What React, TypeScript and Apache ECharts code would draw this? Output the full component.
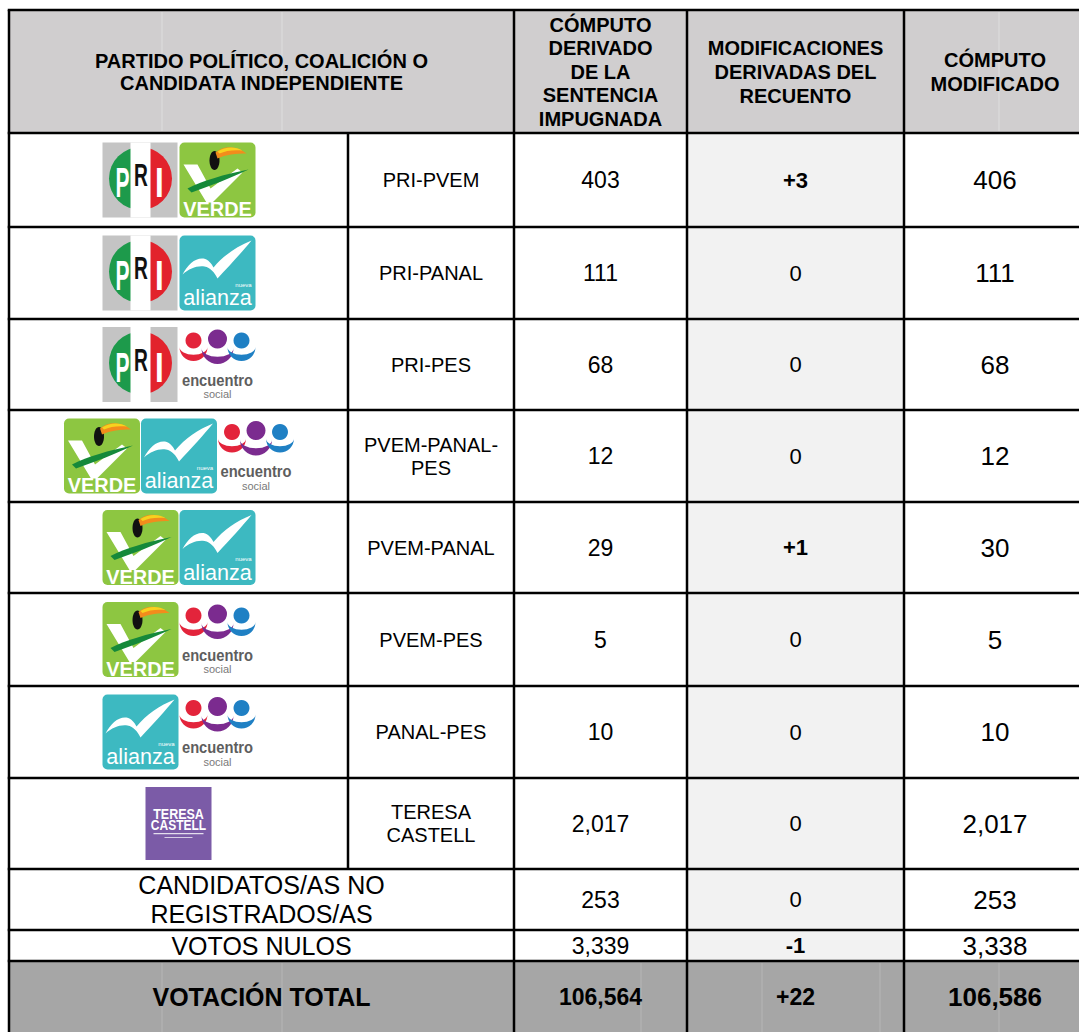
import React, { useEffect, useRef } from "react";
import * as echarts from "echarts";

// ---------------- data ----------------
const headers = [
  "PARTIDO POLÍTICO, COALICIÓN O\nCANDIDATA INDEPENDIENTE",
  "CÓMPUTO\nDERIVADO\nDE LA\nSENTENCIA\nIMPUGNADA",
  "MODIFICACIONES\nDERIVADAS DEL\nRECUENTO",
  "CÓMPUTO\nMODIFICADO",
];
const rowNames = [
  "PRI-PVEM",
  "PRI-PANAL",
  "PRI-PES",
  "PVEM-PANAL-\nPES",
  "PVEM-PANAL",
  "PVEM-PES",
  "PANAL-PES",
  "TERESA\nCASTELL",
  "CANDIDATOS/AS NO\nREGISTRADOS/AS",
  "VOTOS NULOS",
];
const rowLogos = [
  ["PRI", "PVEM"],
  ["PRI", "PANAL"],
  ["PRI", "PES"],
  ["PVEM", "PANAL", "PES"],
  ["PVEM", "PANAL"],
  ["PVEM", "PES"],
  ["PANAL", "PES"],
  ["TC"],
];
const computoSentencia = [403, 111, 68, 12, 29, 5, 10, 2017, 253, 3339];
const modificaciones = [3, 0, 0, 0, 1, 0, 0, 0, 0, -1];
const computoModificado = [406, 111, 68, 12, 30, 5, 10, 2017, 253, 3338];
const totalLabel = "VOTACIÓN TOTAL";
const totalSentencia = 106564;
const totalModificaciones = 22;
const totalModificado = 106586;

// ---------------- layout ----------------
const COLS = [9, 348, 514, 687, 904, 1086];
const ROWS = [10, 133, 227, 319, 410, 502, 593, 686, 778, 869, 930, 961, 1032];
const LOGO_CX = 178.5;
const FONT = "'Liberation Sans', Arial, Helvetica, sans-serif";

// ---------------- custom shapes ----------------
const SHAPES: Record<string, string> = {
  verdeV: "M4 22 L18 22 L31 46 L58 26 L63 30 L33 60 L27 60 Z",
  verdeSwoosh: "M8 46 C24 38 44 32 69 27 C52 35 32 43 12 50 Z",
  toucanBeak: "M36 10 C44 3 57 3 67 11 C57 11 46 12 38 16 Z",
  toucanBeakTop: "M38 9 C46 4 56 4 63 8 C55 7 46 8 40 11 Z",
  alianzaSwoosh:
    "M3 39 C8 29 16 22 24 23 C29 24 32 28 34 32 C44 20 57 11 72 5 C63 16 51 29 38 43 C35 37 31 32 25 31 C17 30 10 33 3 39 Z",
  crescent: "M-1 0 A1 1 0 0 0 1 0 A1 0.55 0 0 1 -1 0 Z",
};
Object.keys(SHAPES).forEach((k) => {
  echarts.graphic.registerShape(k, echarts.graphic.extendPath(SHAPES[k], {}));
});

function fmt(n: number) {
  return n.toLocaleString("en-US");
}
function fmtMod(n: number) {
  return n > 0 ? "+" + n : String(n);
}

type TxtOpts = { bold?: boolean; color?: string; lh?: number; sx?: number; sy?: number; family?: string };
function txt(x: number, y: number, text: string, size: number, o: TxtOpts = {}) {
  return {
    type: "text",
    x,
    y,
    scaleX: o.sx ?? 1,
    scaleY: o.sy ?? 1,
    silent: true,
    style: {
      text,
      fontSize: size,
      fontFamily: o.family || FONT,
      fontWeight: o.bold ? "bold" : "normal",
      fill: o.color || "#000000",
      textAlign: "center",
      textVerticalAlign: "middle",
      lineHeight: o.lh ?? Math.round(size * 1.15),
    },
  };
}

function priLogo() {
  return [
    { type: "rect", shape: { x: 0, y: 0, width: 75, height: 75 }, style: { fill: "#c4c4c4" } },
    {
      type: "sector",
      shape: { cx: 38, cy: 36, r: 31.5, r0: 0, startAngle: Math.PI / 2, endAngle: Math.PI * 1.5, clockwise: true },
      style: { fill: "#1d9a4b" },
    },
    {
      type: "sector",
      shape: { cx: 38, cy: 36, r: 31.5, r0: 0, startAngle: -Math.PI / 2, endAngle: Math.PI / 2, clockwise: true },
      style: { fill: "#e2222c" },
    },
    { type: "rect", shape: { x: 28, y: 0, width: 20, height: 75 }, style: { fill: "#ffffff" } },
    txt(20, 40, "P", 42, { bold: true, color: "#ffffff", sx: 0.5 }),
    txt(38.5, 33, "R", 32, { bold: true, color: "#111111", sx: 0.6 }),
    txt(57, 40, "I", 42, { bold: true, color: "#ffffff", sx: 0.75 }),
  ];
}

function verdeLogo() {
  return [
    { type: "rect", shape: { x: 0, y: 0, width: 76, height: 75, r: 5 }, style: { fill: "#8dc641" } },
    { type: "verdeV", style: { fill: "#ffffff" } },
    { type: "verdeSwoosh", style: { fill: "#15893a" } },
    { type: "ellipse", shape: { cx: 35, cy: 18, rx: 5, ry: 9.5 }, style: { fill: "#111111" } },
    { type: "toucanBeak", style: { fill: "#f28c1c" } },
    { type: "toucanBeakTop", style: { fill: "#f7d21e" } },
    txt(38, 66, "VERDE", 21, { bold: true, color: "#ffffff", sx: 0.95 }),
  ];
}

function panalLogo() {
  return [
    { type: "rect", shape: { x: 0, y: 0, width: 76, height: 75, r: 5 }, style: { fill: "#3db9c1" } },
    { type: "alianzaSwoosh", style: { fill: "#ffffff" } },
    txt(38, 62, "alianza", 22, { color: "#ffffff", sx: 0.98 }),
    txt(64, 49, "nueva", 6, { color: "#ffffff" }),
  ];
}

function pesLogo() {
  return [
    { type: "crescent", x: 14, y: 20, scaleX: 14, scaleY: 14, style: { fill: "#e3243b" } },
    { type: "crescent", x: 38, y: 21, scaleX: 16, scaleY: 16, style: { fill: "#7b2b8f" } },
    { type: "crescent", x: 62, y: 20, scaleX: 14, scaleY: 14, style: { fill: "#1f80c4" } },
    { type: "circle", shape: { cx: 14, cy: 13.5, r: 8 }, style: { fill: "#e3243b" } },
    { type: "circle", shape: { cx: 38, cy: 12, r: 9.5 }, style: { fill: "#7b2b8f" } },
    { type: "circle", shape: { cx: 62, cy: 13.5, r: 8 }, style: { fill: "#1f80c4" } },
    txt(38, 53, "encuentro", 16, { bold: true, color: "#5e5e5e", sx: 0.92 }),
    txt(38, 67, "social", 11, { color: "#7a7a7a" }),
  ];
}

function tcLogo() {
  return [
    { type: "rect", shape: { x: 0, y: 0, width: 66, height: 73 }, style: { fill: "#7b5ba7" } },
    txt(33, 27, "TERESA", 12.5, { bold: true, color: "#ffffff", sy: 1.15 }),
    txt(33, 38.5, "CASTELL", 12, { bold: true, color: "#ffffff", sy: 1.15 }),
    { type: "rect", shape: { x: 8, y: 46, width: 50, height: 1.3 }, style: { fill: "rgba(255,255,255,0.8)" } },
    { type: "rect", shape: { x: 19, y: 50, width: 28, height: 1 }, style: { fill: "rgba(255,255,255,0.7)" } },
  ];
}

const LOGOS: Record<string, () => any[]> = {
  PRI: priLogo,
  PVEM: verdeLogo,
  PANAL: panalLogo,
  PES: pesLogo,
  TC: tcLogo,
};

function logoRow(list: string[], cy: number) {
  const G = 2;
  const widths = list.map((k) => (k === "TC" ? 66 : 75));
  const total = widths.reduce((a, b) => a + b, 0) + G * (list.length - 1);
  let x = LOGO_CX - total / 2;
  const out: any[] = [];
  list.forEach((k, j) => {
    const h = k === "TC" ? 73 : 75;
    out.push({ type: "group", x, y: cy - h / 2, children: LOGOS[k]() });
    x += widths[j] + G;
  });
  return out;
}

function buildElements() {
  const els: any[] = [];
  const W = 1079;
  const c2 = (COLS[2] + COLS[3]) / 2;
  const c3 = (COLS[3] + COLS[4]) / 2;
  const c4 = (COLS[4] + COLS[5]) / 2;
  const last = ROWS.length - 1;

  // fills
  els.push({ type: "rect", shape: { x: COLS[0], y: ROWS[0], width: W - COLS[0], height: ROWS[1] - ROWS[0] }, style: { fill: "#d0cecf" } });
  els.push({ type: "rect", shape: { x: COLS[3], y: ROWS[1], width: COLS[4] - COLS[3], height: ROWS[last - 1] - ROWS[1] }, style: { fill: "#f2f2f2" } });
  els.push({ type: "rect", shape: { x: COLS[0], y: ROWS[last - 1], width: W - COLS[0], height: ROWS[last] - ROWS[last - 1] }, style: { fill: "#a6a6a6" } });

  // faint cell artefacts in shaded areas
  const faint = (x1: number, y1: number, x2: number, y2: number, c: string) => ({
    type: "line",
    shape: { x1, y1, x2, y2 },
    style: { stroke: c, lineWidth: 1 },
  });
  [162, 282].forEach((x) => els.push(faint(x, ROWS[0] + 2, x, ROWS[1] - 2, "#dedede")));
  [999].forEach((x) => els.push(faint(x, ROWS[0] + 2, x, ROWS[1] - 2, "#dedede")));
  [162, 282, 641, 762, 880, 999].forEach((x) => els.push(faint(x, ROWS[last - 1] + 2, x, ROWS[last], "#b6b6b6")));

  // header
  const hy = (ROWS[0] + ROWS[1]) / 2;
  els.push(txt((COLS[0] + COLS[2]) / 2, hy, headers[0], 20, { bold: true, lh: 22 }));
  els.push(txt(c2, hy, headers[1], 20, { bold: true, lh: 23.5 }));
  els.push(txt(c3, hy, headers[2], 20, { bold: true, lh: 24 }));
  els.push(txt(c4, hy, headers[3], 20, { bold: true, lh: 24 }));

  // body
  for (let i = 0; i < rowNames.length; i++) {
    const y0 = ROWS[i + 1];
    const y1 = ROWS[i + 2];
    const cy = (y0 + y1) / 2;
    if (i < rowLogos.length) {
      els.push(...logoRow(rowLogos[i], cy));
      els.push(txt((COLS[1] + COLS[2]) / 2, cy, rowNames[i], 20, { lh: 23 }));
    } else {
      els.push(txt((COLS[0] + COLS[2]) / 2, cy, rowNames[i], 25, { lh: 29 }));
    }
    els.push(txt(c2, cy, fmt(computoSentencia[i]), 23));
    els.push(txt(c3, cy, fmtMod(modificaciones[i]), 22, { bold: modificaciones[i] !== 0 }));
    els.push(txt(c4, cy, fmt(computoModificado[i]), 26));
  }

  // total row
  const ty = (ROWS[last - 1] + ROWS[last]) / 2;
  els.push(txt((COLS[0] + COLS[2]) / 2, ty, totalLabel, 25, { bold: true }));
  els.push(txt(c2, ty, fmt(totalSentencia), 23, { bold: true }));
  els.push(txt(c3, ty, fmtMod(totalModificaciones), 23, { bold: true }));
  els.push(txt(c4, ty, fmt(totalModificado), 26, { bold: true }));

  // grid lines
  const LW = 2.5;
  const line = (x1: number, y1: number, x2: number, y2: number) => ({
    type: "line",
    shape: { x1, y1, x2, y2 },
    style: { stroke: "#000000", lineWidth: LW },
  });
  for (let r = 0; r < last; r++) els.push(line(COLS[0] - LW / 2, ROWS[r], W, ROWS[r]));
  els.push(line(COLS[0], ROWS[0], COLS[0], ROWS[last]));
  els.push(line(COLS[1], ROWS[1], COLS[1], ROWS[9]));
  els.push(line(COLS[2], ROWS[0], COLS[2], ROWS[last]));
  els.push(line(COLS[3], ROWS[0], COLS[3], ROWS[last]));
  els.push(line(COLS[4], ROWS[0], COLS[4], ROWS[last]));
  return els;
}

export default function App() {
  const ref = useRef<HTMLDivElement>(null);
  useEffect(() => {
    if (!ref.current) return;
    const chart = echarts.init(ref.current, null, { renderer: "svg" });
    chart.setOption({
      animation: false,
      backgroundColor: "#ffffff",
      graphic: { elements: buildElements() },
    });
    return () => chart.dispose();
  }, []);
  return (
    <div
      ref={ref}
      style={{ position: "fixed", left: 0, top: 0, width: 1079, height: 1032, background: "#ffffff" }}
    />
  );
}
